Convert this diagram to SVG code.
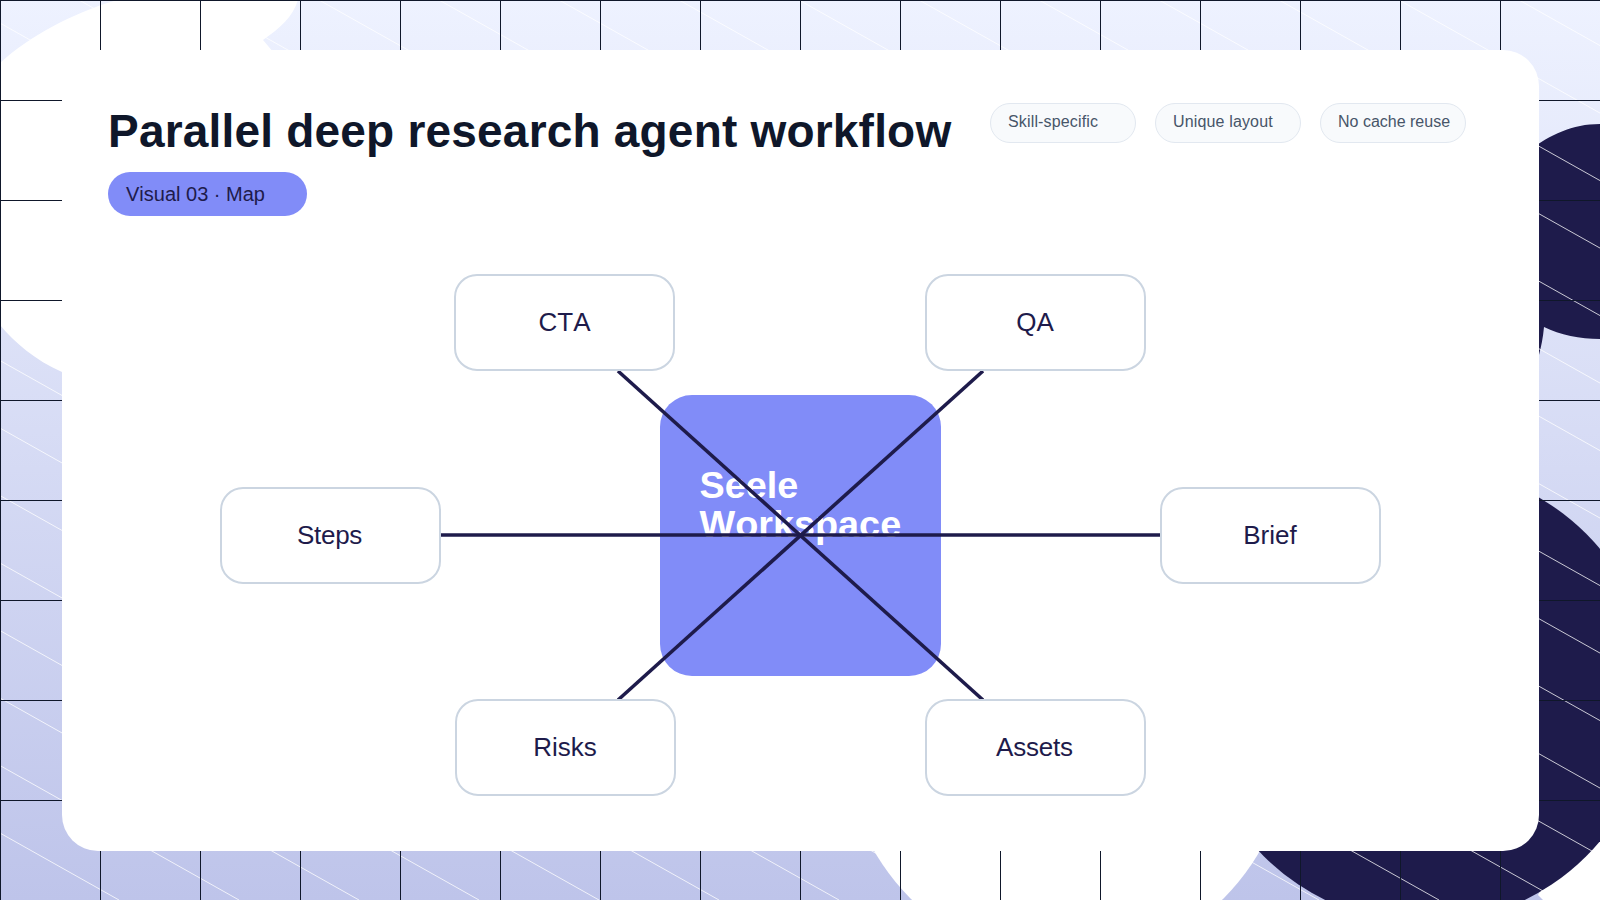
<svg xmlns="http://www.w3.org/2000/svg" width="1600" height="900" viewBox="0 0 1600 900">
<style>
text{font-family:"Liberation Sans",Arial,sans-serif;font-kerning:none}
.node rect{fill:#fff;stroke:#cbd5e1;stroke-width:2}
.node text{font-size:26px;fill:#1e1b4b;text-anchor:middle}
.chip rect{fill:#f8fafc;stroke:#e2e8f0;stroke-width:1}
.chip text{font-size:16px;fill:#475569}
#connectors line{stroke:#1e1b4b;stroke-width:3.6}
</style>
<defs>
<linearGradient id="bg" x1="0" y1="0" x2="0" y2="1"><stop offset="0" stop-color="#eef2ff"/><stop offset="1" stop-color="#bec4ea"/></linearGradient>
</defs>
<g id="backdrop">
<rect width="1600" height="900" fill="url(#bg)"/>
<path fill="#fff" d="M0 63C30 36 70 14 117 0L298 0C292 18 280 28 263 40L280 60L300 300L62 372C35 360 15 343 0 325Z"/>
<circle cx="1067" cy="741" r="222" fill="#fff"/>
<path fill="#fff" d="M1600 800V900H1543L1538 895L1590 800Z"/>
<path fill="#1e1b4b" d="M1530 150C1550 135 1572 124 1600 124V339C1580 339 1560 335 1544 327C1543 338 1541 347 1539 355H1530Z"/>
<circle cx="1425" cy="695" r="228" fill="#1e1b4b"/>
<path fill="none" stroke="#fff" stroke-width="0.9" stroke-opacity="0.85" d="M-1601 0l1600 900M-1481 0l1600 900M-1361 0l1600 900M-1241 0l1600 900M-1121 0l1600 900M-1001 0l1600 900M-881 0l1600 900M-761 0l1600 900M-641 0l1600 900M-521 0l1600 900M-401 0l1600 900M-281 0l1600 900M-161 0l1600 900M-41 0l1600 900M79 0l1600 900M199 0l1600 900M319 0l1600 900M439 0l1600 900M559 0l1600 900M679 0l1600 900M799 0l1600 900M919 0l1600 900M1039 0l1600 900M1159 0l1600 900M1279 0l1600 900M1399 0l1600 900M1519 0l1600 900"/>
<path fill="none" stroke="#0f172a" stroke-width="1" d="M.5 0V900M100.5 0V900M200.5 0V900M300.5 0V900M400.5 0V900M500.5 0V900M600.5 0V900M700.5 0V900M800.5 0V900M900.5 0V900M1000.5 0V900M1100.5 0V900M1200.5 0V900M1300.5 0V900M1400.5 0V900M1500.5 0V900M0 .5H1600M0 100.5H1600M0 200.5H1600M0 300.5H1600M0 400.5H1600M0 500.5H1600M0 600.5H1600M0 700.5H1600M0 800.5H1600"/>
<rect x="62" y="50" width="1477" height="801" rx="36" fill="#fff"/>
</g>
<text id="title" x="108" y="147" font-size="46" font-weight="700" fill="#0f172a" letter-spacing=".2">Parallel deep research agent workflow</text>
<g id="badge"><rect x="108" y="172" width="199" height="44" rx="22" fill="#818cf8"/><text x="126" y="201" font-size="20" fill="#1e1b4b">Visual 03 · Map</text></g>
<g id="chip-skill" class="chip"><rect x="990.5" y="103.5" width="145" height="39" rx="19.5"/><text x="1008" y="127" letter-spacing=".15">Skill-specific</text></g>
<g id="chip-layout" class="chip"><rect x="1155.5" y="103.5" width="145" height="39" rx="19.5"/><text x="1173" y="127" letter-spacing=".15">Unique layout</text></g>
<g id="chip-cache" class="chip"><rect x="1320.5" y="103.5" width="145" height="39" rx="19.5"/><text x="1338" y="127">No cache reuse</text></g>
<g id="node-center"><rect x="660" y="395" width="281" height="281" rx="32" fill="#818cf8"/><text font-size="37.8" font-weight="700" fill="#fff"><tspan x="699.5" y="498">Seele</tspan><tspan x="699.5" y="536.5">Workspace</tspan></text></g>
<g id="connectors">
<line x1="441" y1="535" x2="1160" y2="535"/>
<line x1="618" y1="371" x2="983" y2="700"/>
<line x1="983" y1="371" x2="618" y2="700"/>
</g>
<g id="node-cta" class="node"><rect x="455" y="275" width="219" height="95" rx="22"/><text x="564.5" y="331">CTA</text></g>
<g id="node-qa" class="node"><rect x="926" y="275" width="219" height="95" rx="22"/><text x="1035" y="331">QA</text></g>
<g id="node-steps" class="node"><rect x="221" y="488" width="219" height="95" rx="22"/><text x="329.5" y="544" letter-spacing="-.3">Steps</text></g>
<g id="node-brief" class="node"><rect x="1161" y="488" width="219" height="95" rx="22"/><text x="1270" y="544">Brief</text></g>
<g id="node-risks" class="node"><rect x="456" y="700" width="219" height="95" rx="22"/><text x="565" y="756">Risks</text></g>
<g id="node-assets" class="node"><rect x="926" y="700" width="219" height="95" rx="22"/><text x="1034.5" y="756" letter-spacing="-.2">Assets</text></g>
</svg>
